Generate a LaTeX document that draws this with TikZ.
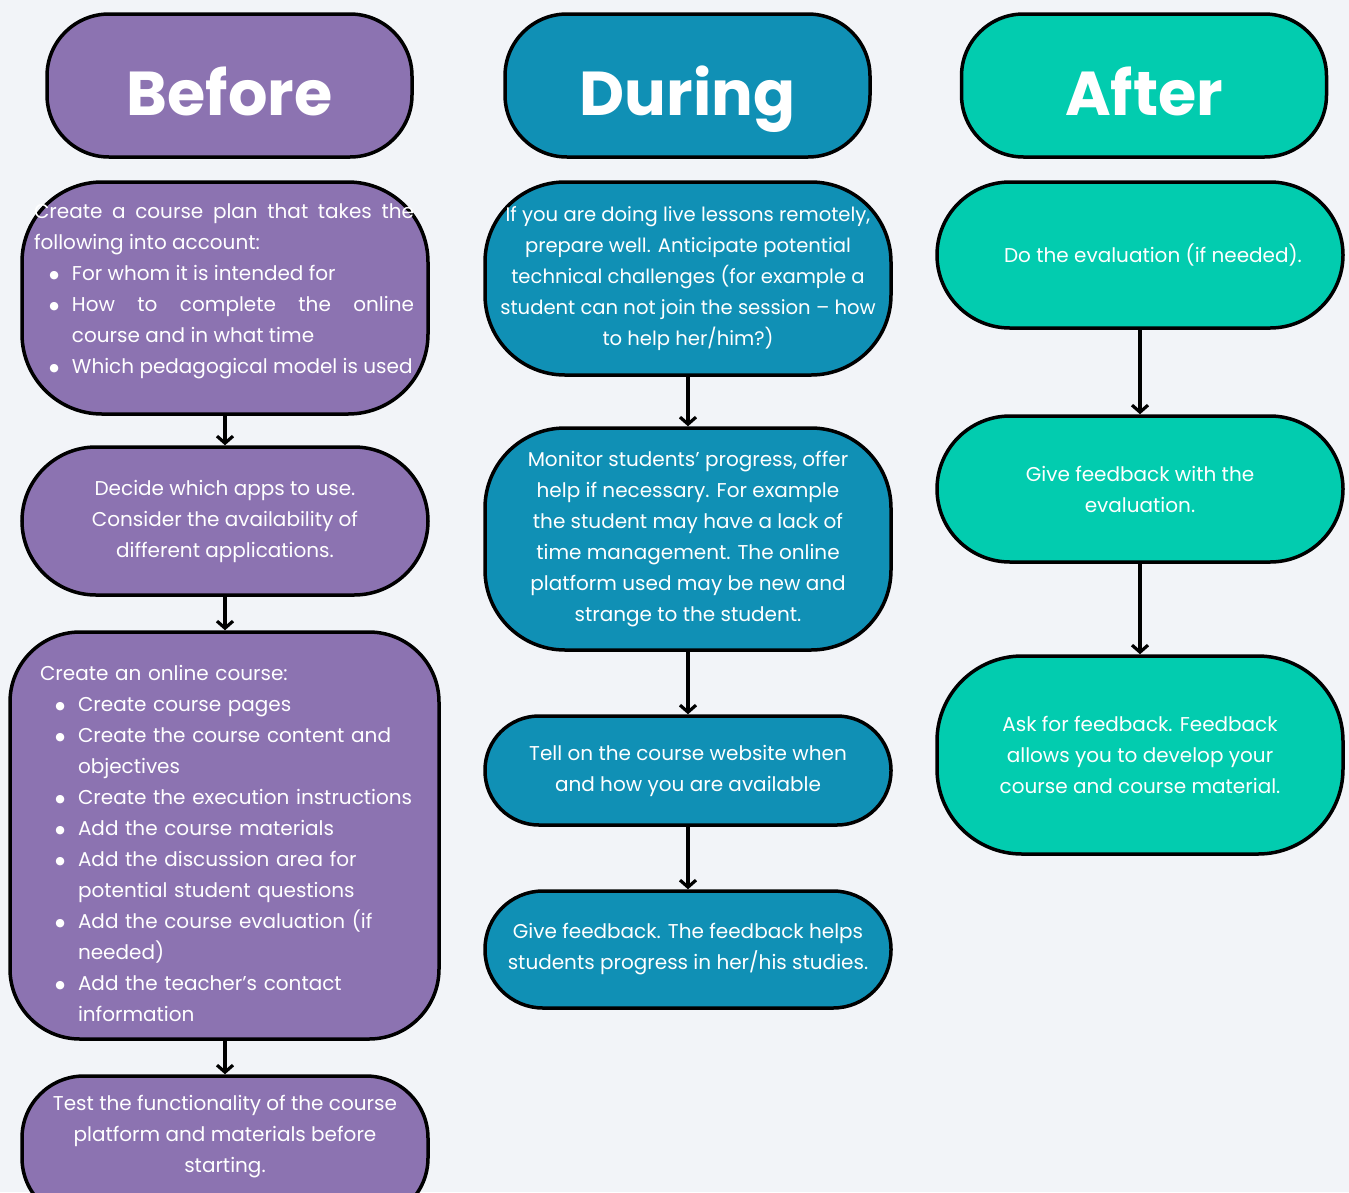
\documentclass[tikz,border=0pt]{standalone}
\usepackage{fontspec}
\setmainfont{Poppins}
\newfontfamily\dejavu{DejaVu Sans}
\usetikzlibrary{arrows.meta}
\definecolor{bg}{HTML}{F2F4F8}
\definecolor{cpur}{HTML}{8C73B1}
\definecolor{cblu}{HTML}{1090B5}
\definecolor{cgrn}{HTML}{02CCAF}
\newcommand{\mybul}{\raisebox{1.5pt}{\dejavu\fontsize{11}{11}\selectfont ●}}
\newenvironment{blist}{\begin{list}{\mybul}{%
  \setlength{\leftmargin}{38pt}\setlength{\labelwidth}{26pt}%
  \setlength{\labelsep}{13pt}\setlength{\itemsep}{0pt}%
  \setlength{\parsep}{0pt}\setlength{\topsep}{0pt}%
  \setlength{\partopsep}{0pt}\setlength{\itemindent}{0pt}}}{\end{list}}
\tikzset{
  box/.style={draw=black, line width=3.5pt, rounded corners=#1, inner sep=0pt,
    text=white, font=\fontsize{20}{31}\selectfont, align=center},
  head/.style={draw=black, line width=3.5pt, rounded corners=62pt,
    minimum width=365pt, minimum height=143pt, inner sep=0pt, text=white,
    text height=59pt, text depth=0pt,
    font=\fontsize{62}{70}\selectfont\bfseries},
  boxtext/.style={text=white, font=\fontsize{20}{31}\selectfont, align=center, inner sep=0pt},
  conn/.style={line width=3.2pt, -{Straight Barb[length=7pt,width=16pt]}}
}
\begin{document}
\begin{tikzpicture}[x=1pt,y=-1pt]
\useasboundingbox (0,0) rectangle (1349,1192);
\fill[bg] (0,0) rectangle (1349,1192);
\clip (0,0) rectangle (1349,1192);

% headers
\node[head, fill=cpur] (hbefore) at (229.5,85.5) {Before};
\node[head, fill=cblu] (hduring) at (687.5,85.5) {During};
\node[head, fill=cgrn] (hafter) at (1144,85.5) {After};

% Before column
\node[box=80pt, fill=cpur, minimum width=406pt, minimum height=232pt] (b1) at (225,298) {};
\node[boxtext, text width=380pt, align=justify] (b1t) at (224,291) {%
  Create a course plan that takes the\linebreak following into account:
  \begin{blist}
  \item For whom it is intended for
  \item How to complete the online\linebreak course and in what time
  \item Which pedagogical model is used
  \end{blist}};
\node[box=74pt, fill=cpur, minimum width=406pt, minimum height=148pt] (b2) at (225,521)
  {Decide which apps to use.\\ Consider the availability of\\ different applications.};
\node[box=70pt, fill=cpur, minimum width=429pt, minimum height=407pt] (b3) at (224.5,835.5) {};
\node[boxtext, text width=392pt, align=left] (b3t) at (236,843) {%
  Create an online course:
  \begin{blist}
  \item Create course pages
  \item Create the course content and\newline objectives
  \item Create the execution instructions
  \item Add the course materials
  \item Add the discussion area for\newline potential student questions
  \item Add the course evaluation (if\newline needed)
  \item Add the teacher’s contact\newline information
  \end{blist}};
\node[box=62pt, fill=cpur, minimum width=406pt, minimum height=144pt] (b4) at (225,1148) {};
\node[boxtext] (b4t) at (225,1137)
  {Test the functionality of the course\\ platform and materials before\\ starting.};

% During column
\node[box=80pt, fill=cblu, minimum width=406pt, minimum height=193pt,
  font=\fontsize{19.6}{31}\selectfont] (d1) at (688,278.5)
  {If you are doing live lessons remotely,\\ prepare well. Anticipate potential\\ technical challenges (for example a\\ student can not join the session – how\\ to help her/him?)};
\node[box=80pt, fill=cblu, minimum width=406pt, minimum height=222pt] (d2) at (688,539)
  {Monitor students’ progress, offer\\ help if necessary. For example\\ the student may have a lack of\\ time management. The online\\ platform used may be new and\\ strange to the student.};
\node[box=54pt, fill=cblu, minimum width=406pt, minimum height=109pt] (d3) at (688,770.5)
  {Tell on the course website when\\ and how you are available};
\node[box=58pt, fill=cblu, minimum width=406pt, minimum height=117pt] (d4) at (688,949.5)
  {Give feedback. The feedback helps\\ students progress in her/his studies.};

% After column
\node[box=73pt, fill=cgrn, minimum width=406pt, minimum height=146pt] (a1) at (1140,255)
  {\hspace*{26pt}Do the evaluation (if needed).};
\node[box=73pt, fill=cgrn, minimum width=406pt, minimum height=146pt] (a2) at (1140,489)
  {Give feedback with the\\ evaluation.};
\node[box=85pt, fill=cgrn, minimum width=406pt, minimum height=198pt] (a3) at (1140,755)
  {Ask for feedback. Feedback\\ allows you to develop your\\ course and course material.};

% connectors
\draw[conn] (b1.south) -- (b2.north);
\draw[conn] (b2.south) -- (b3.north -| b2.south);
\draw[conn] (b3.south -| b4.north) -- (b4.north);
\draw[conn] (d1.south) -- (d2.north);
\draw[conn] (d2.south) -- (d3.north);
\draw[conn] (d3.south) -- (d4.north);
\draw[conn] (a1.south) -- (a2.north);
\draw[conn] (a2.south) -- (a3.north);
\end{tikzpicture}
\end{document}
